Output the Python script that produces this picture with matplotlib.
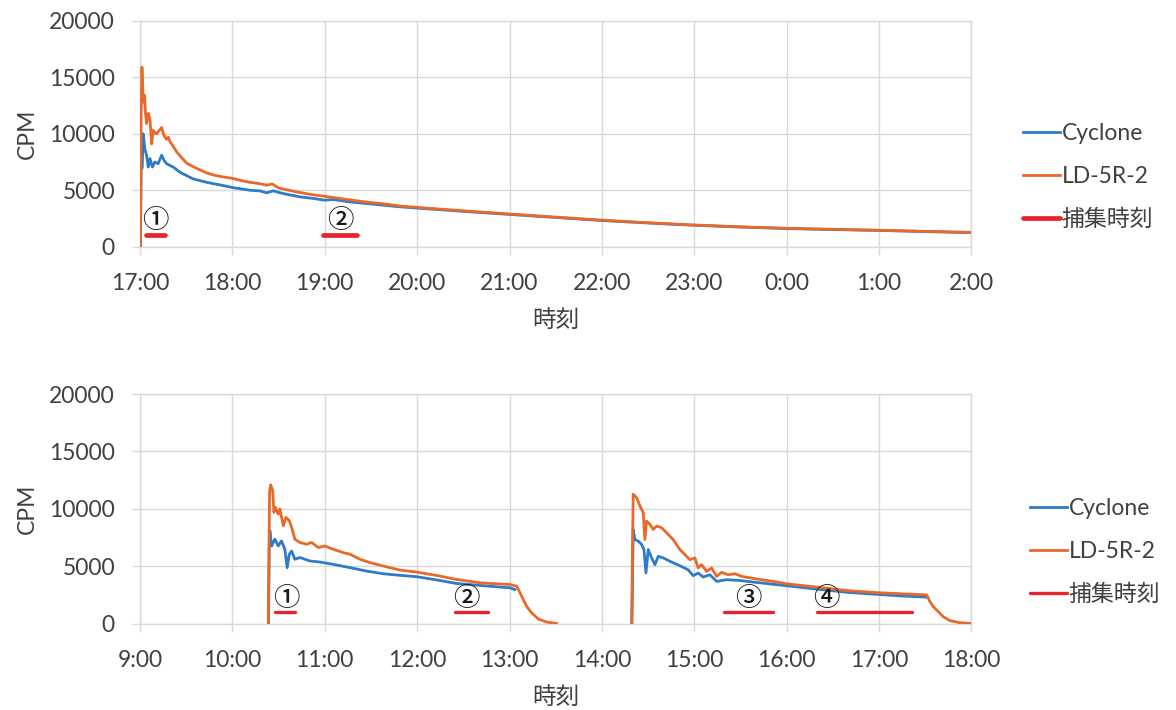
import numpy as np
import matplotlib.pyplot as plt

plt.rcParams['font.family'] = ['Lato', 'Noto Sans CJK JP', 'DejaVu Sans']

nan = np.nan

# x positions are minutes from the left edge of each panel (17:00 and 9:00)
top_ticks = ['17:00', '18:00', '19:00', '20:00', '21:00', '22:00', '23:00', '0:00', '1:00', '2:00']
bot_ticks = ['9:00', '10:00', '11:00', '12:00', '13:00', '14:00', '15:00', '16:00', '17:00', '18:00']

top_cyc_min = [0.3, 0.8, 1.5, 2.0, 2.6, 3.2, 4.3, 5.4, 6.5, 8.1,
               9.7, 11.8, 14.1, 15.6, 17.3, 21.6, 26.0, 34.6, 43.3, 52.0,
               60.0, 71.4, 77.9, 82.3, 86.6, 91.0, 95.0, 104.0, 112.6, 120.0,
               125.5, 136.0, 147.0, 158.0, 169.0, 180, 210, 240, 270, 300,
               330, 360, 390, 420, 450, 480, 510, 540]
top_cyc_cpm = [0, 6800, 7000, 10000, 9400, 8600, 8100, 7050, 7800, 7050,
               7500, 7350, 8100, 7650, 7350, 7050, 6590, 6000, 5700, 5470,
               5240, 5000, 4940, 4770, 4950, 4770, 4650, 4410, 4270, 4120,
               4180, 3970, 3830, 3680, 3530, 3420, 3130, 2860, 2590, 2320,
               2100, 1900, 1740, 1610, 1520, 1440, 1340, 1250]

top_ld_min = [0.3, 0.7, 1.3, 2.2, 3.0, 3.6, 4.3, 5.4, 6.5, 7.6,
              8.7, 9.7, 10.8, 12.0, 13.2, 14.1, 15.2, 16.2, 17.3, 18.4,
              19.5, 21.0, 23.8, 27.0, 30.3, 35.0, 39.0, 43.0, 47.6, 53.0,
              60.0, 66.0, 71.4, 77.0, 82.3, 86.0, 90.0, 95.0, 100.0, 104.0,
              110.0, 115.0, 120.0, 128.0, 136.0, 147.0, 158.0, 169.0, 180, 210,
              240, 270, 300, 330, 360, 390, 420, 450, 480, 510,
              540]
top_ld_cpm = [0, 11000, 15900, 12800, 13400, 11800, 10900, 11800, 11300, 9100,
              10300, 10100, 10000, 10200, 10400, 10550, 10000, 9700, 9500, 9700,
              9300, 9000, 8400, 7900, 7400, 7050, 6800, 6550, 6350, 6200,
              6050, 5850, 5700, 5600, 5450, 5550, 5200, 5050, 4900, 4800,
              4650, 4550, 4470, 4300, 4150, 3950, 3800, 3600, 3480, 3180,
              2900, 2620, 2350, 2120, 1920, 1760, 1630, 1540, 1460, 1360,
              1270]

bot_cyc_min = [83.5, 84.0, 84.4, 85.5, 87.6, 89.8, 91.9, 94.1, 95.6, 97.0,
               98.5, 100.6, 103.9, 110.4, 116.9, 125.5, 136.4, 147.2, 158.0, 168.8,
               179.7, 192.7, 205.6, 220.8, 240.3, 243.5, nan,
               319.5, 320.3, 321.4, 323.6, 325.8, 327.3, 328.6, 330.1, 332.3, 334.4,
               336.6, 339.8, 344.2, 350.6, 356.0, 359.3, 362.5, 365.8, 370.1, 374.5,
               381.0, 389.6, 400.5, 420.0, 439.4, 461.0, 480.5, 493.5, 511.0]
bot_cyc_cpm = [0, 7000, 8080, 6760, 7350, 6760, 7200, 6470, 4870, 6040,
               6320, 5600, 5750, 5450, 5360, 5160, 4870, 4570, 4340, 4200,
               4080, 3800, 3490, 3320, 3110, 2960, nan,
               0, 8200, 7320, 7180, 6890, 6450, 4400, 6450, 5720, 5130,
               5860, 5720, 5420, 5040, 4680, 4170, 4400, 4050, 4250, 3670,
               3820, 3750, 3580, 3290, 3000, 2700, 2530, 2410, 2300]

bot_ld_min = [83.3, 84.2, 84.9, 86.2, 87.0, 87.9, 89.8, 90.9, 93.1, 94.8,
              97.0, 98.5, 100.6, 103.9, 108.2, 111.5, 115.8, 120.1, 125.5, 132.0,
              136.4, 142.9, 149.4, 158.0, 168.8, 179.7, 192.7, 205.6, 220.8, 240.3,
              244.6, 246.8, 248.9, 251.1, 254.4, 258.7, 264.1, 270.6, nan,
              319.3, 320.3, 322.5, 324.7, 326.8, 327.9, 329.0, 331.2, 333.3, 335.5,
              338.8, 342.0, 346.3, 350.6, 353.9, 357.1, 360.4, 362.5, 364.7, 368.0,
              371.2, 374.5, 377.7, 382.0, 386.4, 390.7, 400.5, 411.3, 420.0, 439.4,
              461.0, 480.5, 495.0, 510.9, 513.0, 515.2, 518.4, 521.6, 526.0, 532.5,
              540.0]
bot_ld_cpm = [0, 11500, 12090, 11590, 9690, 10130, 9540, 9980, 8520, 9250,
              8960, 8380, 7350, 7060, 6910, 7060, 6620, 6760, 6470, 6180,
              6040, 5600, 5310, 5010, 4660, 4480, 4190, 3840, 3550, 3400,
              3250, 2680, 2090, 1500, 920, 390, 130, 0, nan,
              0, 11270, 10980, 10250, 9670, 7320, 8930, 8640, 8200, 8490,
              8350, 7910, 7320, 6450, 6010, 5570, 5720, 4840, 5130, 4540,
              4840, 4110, 4460, 4250, 4340, 4110, 3880, 3670, 3460, 3180,
              2850, 2680, 2590, 2500, 1910, 1470, 1040, 600, 250, 70,
              0]

# sampling periods
top_cap_start = [4, 119]
top_cap_end = [16, 141]
top_cap_text = ['①', '②']
top_cap_text_min = [10, 130]

bot_cap_start = [88, 204.5, 379.4, 439.4]
bot_cap_end = [100.6, 226.2, 410.9, 501.1]
bot_cap_text = ['①', '②', '③', '④']
bot_cap_text_min = [95, 212, 395, 446]

cap_level = 1000
blue = '#2E7BC8'
orange = '#E8692A'
red = '#E8232D'
grid_c = '#D9D9D9'
text_c = '#404040'

fig = plt.figure(figsize=(11.76, 7.10), dpi=100)
ax_top = fig.add_axes([0.1190, 0.6525, 0.7071, 0.3183])
ax_bot = fig.add_axes([0.1190, 0.1218, 0.7071, 0.3232])


def draw_panel(ax, cyc_x, cyc_y, ld_x, ld_y, cs, ce, ctext, ctext_x, ticks,
               cap_lw, text_y):
    ax.plot(cyc_x, cyc_y, color=blue, lw=2.0, label='Cyclone', zorder=3)
    ax.plot(ld_x, ld_y, color=orange, lw=2.0, label='LD-5R-2', zorder=4)
    for i, (s, e) in enumerate(zip(cs, ce)):
        ax.plot([s, e], [cap_level, cap_level], color=red, lw=cap_lw,
                solid_capstyle='round', zorder=5,
                label='捕集時刻' if i == 0 else None)
    for t, x in zip(ctext, ctext_x):
        ax.text(x, text_y, t, ha='center', va='center', fontsize=19,
                fontweight='medium', color='#1A1A1A',
                family=['Noto Sans CJK JP', 'DejaVu Sans'], zorder=6)
    ax.set_xlim(0, 540)
    ax.set_ylim(0, 20000)
    ax.set_xticks(np.arange(0, 541, 60))
    ax.set_xticklabels(ticks)
    ax.set_yticks(np.arange(0, 20001, 5000))
    ax.grid(True, color=grid_c, lw=1.0, zorder=0)
    ax.set_axisbelow(True)
    for sp in ax.spines.values():
        sp.set_color(grid_c)
        sp.set_linewidth(1.0)
    ax.tick_params(axis='both', colors=grid_c, labelcolor=text_c,
                   labelsize=16.5, length=6, width=1.0)
    ax.tick_params(axis='y', pad=12)
    ax.tick_params(axis='x', pad=13)
    ax.set_ylabel('CPM', fontsize=16.5, color=text_c, labelpad=8)
    ax.set_xlabel('時刻', fontsize=17, color=text_c, labelpad=11,
                  family=['Noto Sans CJK JP'])


draw_panel(ax_top, top_cyc_min, top_cyc_cpm, top_ld_min, top_ld_cpm,
           top_cap_start, top_cap_end, top_cap_text, top_cap_text_min,
           top_ticks, 3.4, 2300)
draw_panel(ax_bot, bot_cyc_min, bot_cyc_cpm, bot_ld_min, bot_ld_cpm,
           bot_cap_start, bot_cap_end, bot_cap_text, bot_cap_text_min,
           bot_ticks, 2.4, 2200)

for ax, anchor in ((ax_top, (0.862, 0.751)), (ax_bot, (0.868, 0.223))):
    leg = fig.legend(*ax.get_legend_handles_labels(), loc='center left',
                     bbox_to_anchor=anchor, frameon=False, fontsize=16.5,
                     handlelength=1.6, handletextpad=0.08, labelspacing=0.95,
                     borderaxespad=0)
    for txt in leg.get_texts():
        txt.set_color(text_c)

fig.savefig('out.png', dpi=100, facecolor='white')
